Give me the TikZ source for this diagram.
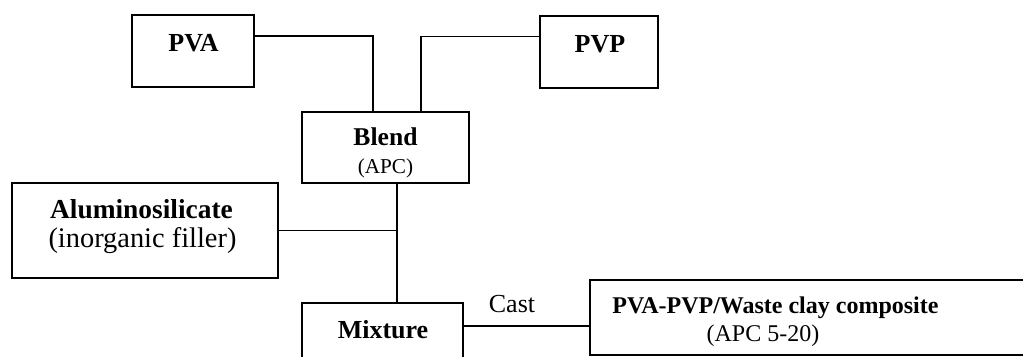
\documentclass[tikz,border=0pt]{standalone}
\usepackage{fontspec}
\setmainfont{Liberation Serif}
\usetikzlibrary{calc}
\tikzset{
  box/.style={draw, line width=1pt, rectangle, inner sep=0pt},
  conn/.style={line width=0.9pt},
  txt/.style={inner sep=0pt, anchor=base},
}
\begin{document}
\begin{tikzpicture}[x=0.5pt, y=-0.5pt]
\useasboundingbox (0,0) rectangle (1023,357);
% boxes
\node[box, minimum width=61pt, minimum height=36pt] (pva) at (193,51) {};
\node[box, minimum width=59pt, minimum height=36pt] (pvp) at (599,52) {};
\node[box, minimum width=83.5pt, minimum height=35.5pt] (blend) at (385.5,147.5) {};
\node[box, minimum width=133pt, minimum height=47.5pt] (alu) at (145,230.5) {};
\node[box, minimum width=80.5pt, minimum height=36pt] (mix) at (382.5,339) {};
\node[box, minimum width=250pt, minimum height=37.5pt] (comp) at (840,317.5) {};
% texts
\node[txt, font=\fontsize{13}{15}\selectfont\bfseries] (tpva) at (193.5,52) {PVA};
\node[txt, font=\fontsize{13}{15}\selectfont\bfseries] (tpvp) at (600,53) {PVP};
\node[txt, font=\fontsize{12.8}{15}\selectfont\bfseries] (tblend) at (385.5,146) {Blend};
\node[txt, font=\fontsize{10.6}{13}\selectfont] (tapc) at (385.5,174) {(APC)};
\node[txt, font=\fontsize{13.7}{16}\selectfont\bfseries] (talu) at (141.5,219) {Aluminosilicate};
\node[txt, font=\fontsize{14.2}{16}\selectfont] (tinorg) at (142.5,248) {(inorganic filler)};
\node[txt, font=\fontsize{13}{15}\selectfont\bfseries] (tmix) at (383,339) {Mixture};
\node[txt, font=\fontsize{12}{14}\selectfont\bfseries, anchor=base west] (tcomp) at (612,314) {PVA-PVP/Waste clay composite};
\node[txt, font=\fontsize{12}{14}\selectfont] (tcapc) at (763,342) {(APC 5-20)};
\node[txt, font=\fontsize{13}{15}\selectfont] (tcast) at (512,313) {Cast};
% connectors
\coordinate (bj) at ($(blend.south)+(11.5,0)$);
\draw[conn] ($(pva.north east)+(0,22)$) -| ($(blend.north)+(-12.5,0)$);
\draw[conn] ($(pvp.north west)+(0,21.5)$) -| ($(blend.north)+(35.5,0)$);
\draw[conn] (bj) -- (bj |- mix.north);
\draw[conn] (alu.east) -- (alu.east -| bj);
\coordinate (mc) at ($(mix.north east)+(0,24)$);
\draw[conn] (mc) -- (mc -| comp.west);
\end{tikzpicture}
\end{document}
